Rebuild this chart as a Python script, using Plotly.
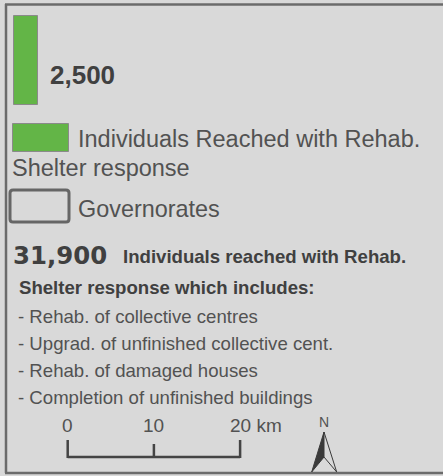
import plotly.graph_objects as go

# ---- data ----
bar_value = [2500]
bar_label = ["2,500"]
legend_labels = ["Individuals Reached with Rehab.", "Shelter response", "Governorates"]
total_value = 31900
total_label = "31,900"
total_caption = "Individuals reached with Rehab."
includes_title = "Shelter response which includes:"
include_items = [
    "- Rehab. of collective centres",
    "- Upgrad. of unfinished collective cent.",
    "- Rehab. of damaged houses",
    "- Completion of unfinished buildings",
]
scale_km = [0, 10, 20]
scale_labels = ["0", "10", "20 km"]

W, H = 443, 476
PAD = 20  # extra width beyond the window so no edge artefact shows
BG = "#d9d9d9"
GREEN = "#63b547"
DARK = "#404040"
MID = "#525252"
BORDER = "#6b6b6b"

# scales (pixel mapping)
px_per_ind = 89 / 2500.0
bar_base = 105
km0_px, px_per_km = 67.7, 8.62

fig = go.Figure()

# proportional green bar
fig.add_trace(go.Bar(
    x=[26], y=[-v * px_per_ind for v in bar_value], base=[bar_base], width=[24],
    marker=dict(color=GREEN, line=dict(color="#8a8a8a", width=1)),
    hoverinfo="skip", showlegend=False))

# scale bar
sx = [km0_px + k * px_per_km for k in scale_km]
fig.add_trace(go.Scatter(x=[sx[0], sx[-1]], y=[457, 457], mode="lines",
                         line=dict(color="#444444", width=2.5), hoverinfo="skip", showlegend=False))
for i, x in enumerate(sx):
    top = 444 if 0 < i < len(sx) - 1 else 440
    fig.add_trace(go.Scatter(x=[x, x], y=[top, 458], mode="lines",
                             line=dict(color="#444444", width=2.5), hoverinfo="skip", showlegend=False))

shapes = [
    # border
    dict(type="line", x0=5, x1=W + PAD, y0=4.5, y1=4.5, line=dict(color=BORDER, width=2.5)),
    dict(type="line", x0=6, x1=6, y0=4, y1=473, line=dict(color=BORDER, width=2.5)),
    dict(type="line", x0=5, x1=W + PAD, y0=473, y1=473, line=dict(color=BORDER, width=2.5)),
    # legend swatches
    dict(type="rect", x0=12.5, x1=68.5, y0=123.5, y1=151.5, fillcolor=GREEN,
         line=dict(color="#8a8a8a", width=1)),
    dict(type="path", path="M 13,190 L 66,190 Q 69,190 69,193 L 69,219 Q 69,222 66,222 L 13,222 Q 10,222 10,219 L 10,193 Q 10,190 13,190 Z",
         fillcolor=BG, line=dict(color="#666666", width=3)),
    # north arrow
    dict(type="path", path="M 324,432 L 311.7,472 L 324,457 Z", fillcolor="#3a3a3a",
         line=dict(color="#3a3a3a", width=1)),
    dict(type="path", path="M 324,432 L 336.7,472 L 324,457 Z", fillcolor=BG,
         line=dict(color="#3a3a3a", width=1)),
]

ann = []
def txt(x, y, s, size, color, bold=False, family="Liberation Sans, Arial, sans-serif", anchor="left"):
    ann.append(dict(x=x, y=y, xref="x", yref="y", text=("<b>%s</b>" % s) if bold else s,
                    showarrow=False, xanchor=anchor, yanchor="middle",
                    font=dict(size=size, color=color, family=family), borderpad=0))

txt(49, 74.5, bar_label[0], 26, DARK, bold=True)
txt(77, 139, legend_labels[0], 23.5, MID)
txt(11, 167.5, legend_labels[1], 23.5, MID)
txt(77, 208.5, legend_labels[2], 23.4, MID)
txt(11.5, 255.5, total_label, 24.4, DARK, bold=True, family="DejaVu Sans, sans-serif")
txt(122, 256.5, total_caption, 18.6, DARK, bold=True)
txt(18, 287.5, includes_title, 18.6, DARK, bold=True)
for i, item in enumerate(include_items):
    txt(17, 316.5 + i * 27, item, 18.6, MID)
for x, lab in zip(sx, scale_labels):
    if lab.endswith(" km"):
        ann.append(dict(x=x - 11, y=425.5, xref="x", yref="y", text=lab, showarrow=False,
                        xanchor="left", yanchor="middle", borderpad=0,
                        font=dict(size=19, color=MID, family="Liberation Sans, Arial, sans-serif")))
    else:
        txt(x, 425.5, lab, 19, MID, anchor="center")
txt(324, 421.5, "N", 14, MID, anchor="center")

fig.update_layout(
    width=W + PAD, height=H, margin=dict(l=0, r=0, t=0, b=0),
    paper_bgcolor=BG, plot_bgcolor=BG,
    xaxis=dict(range=[0, W + PAD], visible=False, fixedrange=True),
    yaxis=dict(range=[H, 0], visible=False, fixedrange=True),
    shapes=shapes, annotations=ann, bargap=0, showlegend=False,
)
fig.write_html("out.html", config={"displayModeBar": False},
               post_script=("document.documentElement.style.overflow='hidden';"
                            "document.body.style.overflow='hidden';"
                            "document.body.style.margin='0';"
                            "document.body.style.background='%s';" % BG))
